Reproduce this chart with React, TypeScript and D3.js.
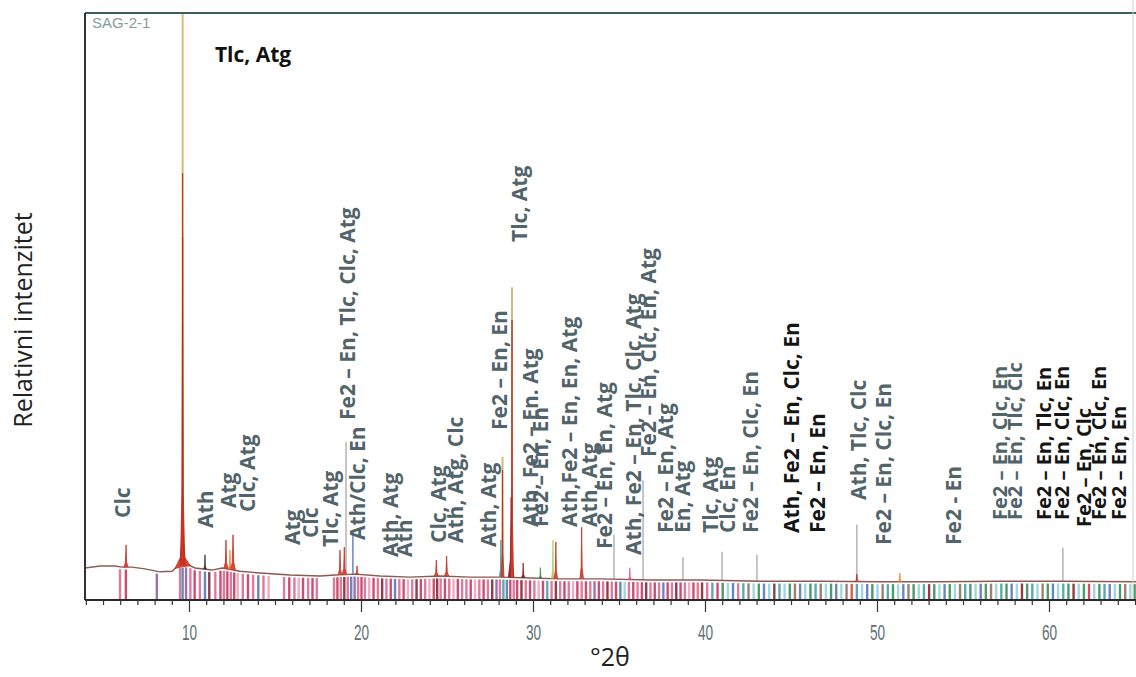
import React from 'react';
import * as d3 from 'd3';

const W = 1136;
const H = 677;

// background of the diffractogram (°2θ, relative intensity)
const bgTheta = [3.92, 4.8, 5.67, 6.08, 6.66, 7.41, 8.28, 8.98, 9.33, 9.91, 10.32, 11.31, 11.89, 12.94, 14.1, 15.84, 17.59, 18.46, 19.62, 21.08, 22.82, 24.56, 26.31, 28.05, 29.8, 31.54, 33.87, 36.77, 39.68, 43.17, 46.66, 50.14, 53.63, 57.12, 60.61, 65.04];
const bgInt = [5.45, 5.8, 5.8, 5.6, 5.6, 5.3, 4.8, 4.9, 5.8, 6.0, 5.45, 5.1, 5.45, 4.9, 4.6, 4.26, 4.1, 4.26, 4.4, 4.1, 3.9, 4.1, 3.9, 3.9, 3.75, 3.6, 3.6, 3.4, 3.4, 3.2, 3.2, 3.1, 3.1, 3.2, 3.2, 3.1];

// measured peaks: position, height, half width, phase colour code
const peakTheta = [6.31, 9.6, 9.6, 9.6, 10.9, 12.12, 12.35, 12.53, 18.75, 19.0, 19.74, 24.35, 24.95, 28.1, 28.2, 28.7, 28.75, 29.4, 30.4, 31.13, 31.3, 32.8, 35.6, 48.8, 51.3];
const peakInt = [9.4, 12, 61.8, 72.7, 7.7, 10.2, 8.5, 11.1, 8.5, 9.0, 5.8, 6.8, 7.5, 10.2, 22.1, 17.5, 47.7, 6.3, 5.5, 10.2, 9.9, 12.4, 5.5, 4.4, 4.6];
const peakHalf = [0.12, 0.45, 0.13, 0.06, 0.08, 0.12, 0.1, 0.14, 0.1, 0.12, 0.1, 0.12, 0.12, 0.08, 0.08, 0.16, 0.09, 0.1, 0.08, 0.08, 0.1, 0.1, 0.1, 0.1, 0.1];
const peakPhase = ['r', 'r', 'r', 'r', 'k', 'r', 'o', 'r', 'r', 'r', 'r', 'r', 'r', 't', 'r', 'd', 'r', 'd', 'g', 'y', 'r', 'r', 'p', 'r', 'o'];

// thin reference lines rising above the trace
const lineTheta = [9.6, 28.2, 28.75, 19.1, 19.5, 34.68, 36.37, 38.69, 40.96, 42.99, 48.8, 60.78];
const lineInt = [120, 24.4, 53.3, 26.9, 11.9, 11.1, 20.4, 7.3, 8.2, 7.7, 12.8, 8.9];
const linePhase = ['a', 'a', 'a', 'e', 'b', 'e', 'e', 'e', 'e', 'e', 'e', 'e'];

// stick pattern of the reference phases
const sticks: [number, string][] = [
  [5.96, 'p'], [6.3, 'm'], [8.1, 'v'], [9.45, 'p'], [9.6, 'b'], [9.8, 'v'], [10.05, 'p'], [10.3, 'm'], [10.6, 'p'], [10.9, 'b'],
  [11.15, 'd'], [11.5, 'p'], [11.8, 'm'], [12.0, 'p'], [12.2, 'm'], [12.4, 'p'], [12.6, 'm'], [12.8, 'l'], [13.1, 'p'], [13.4, 'm'],
  [13.7, 'p'], [14.0, 'b'], [14.3, 'p'], [14.6, 'l'], [15.5, 'p'], [15.8, 'm'], [16.1, 'p'], [16.35, 'l'], [16.6, 'm'], [16.9, 'p'],
  [17.15, 'm'], [17.4, 'p'], [18.4, 'p'], [18.6, 'm'], [18.8, 'p'], [19.0, 'd'], [19.2, 'p'], [19.4, 'b'], [19.6, 'v'], [19.8, 'p'],
  [20.0, 'm'], [20.2, 'p'], [20.45, 'l'], [20.7, 'm'], [20.95, 'p'], [21.2, 'd'], [21.45, 'p'], [21.7, 'm'], [21.95, 'b'], [22.2, 'p'],
  [22.45, 'm'], [22.7, 'l'], [22.95, 'p'], [23.2, 'd'], [23.45, 'm'], [23.7, 'p'], [23.95, 'l'], [24.2, 'm'], [24.4, 'd'], [24.6, 'p'],
  [24.85, 'm'], [25.1, 'p'], [25.35, 'l'], [25.6, 'm'], [25.85, 'p'], [26.1, 'p'], [26.35, 'm'], [26.6, 'l'], [26.85, 'p'], [27.1, 'm'],
  [27.35, 'p'], [27.6, 'd'], [27.85, 'v'], [28.05, 'p'], [28.25, 't'], [28.45, 'b'], [28.65, 'm'], [28.85, 'p'], [29.05, 'm'], [29.3, 'd'],
  [29.55, 'p'], [29.8, 'm'], [30.05, 'p'], [30.3, 'l'], [30.55, 'm'], [30.8, 't'], [31.05, 'p'], [31.3, 'd'], [31.55, 'p'], [31.8, 'm'],
  [32.05, 'p'], [32.3, 'l'], [32.55, 'm'], [32.8, 'p'], [33.05, 'm'], [33.3, 'p'], [33.55, 'v'], [33.8, 'm'], [34.05, 'p'], [34.3, 'd'],
  [34.55, 'p'], [34.8, 'm'], [35.05, 'b'], [35.3, 'c'], [35.55, 'p'], [35.8, 'm'], [36.05, 'p'], [36.3, 'm'], [36.55, 'd'], [36.8, 'p'],
  [37.05, 'm'], [37.3, 'p'], [37.55, 'b'], [37.8, 'm'], [38.05, 'p'], [38.3, 'd'], [38.55, 'm'], [38.8, 'p'], [39.05, 'l'], [39.3, 'm'],
  [39.55, 'p'], [39.8, 'd'], [40.1, 'p'], [40.4, 't'], [40.7, 'm'], [41.0, 'g'], [41.3, 'c'], [41.6, 'b'], [41.9, 'p'], [42.2, 't'],
  [42.5, 'n'], [42.8, 'c'], [43.1, 'g'], [43.4, 'b'], [43.7, 'c'], [44.0, 'd'], [44.3, 't'], [44.6, 'c'], [44.9, 'g'], [45.2, 'n'],
  [45.5, 'b'], [45.8, 'c'], [46.1, 'g'], [46.4, 't'], [46.7, 'n'], [47.0, 'c'], [47.3, 'g'], [47.6, 'b'], [47.9, 'c'], [48.2, 'n'],
  [48.5, 'r'], [48.8, 't'], [49.1, 'c'], [49.4, 'b'], [49.7, 'g'], [50.0, 'c'], [50.3, 'n'], [50.6, 't'], [50.9, 'g'], [51.2, 'c'],
  [51.5, 'b'], [51.8, 'n'], [52.1, 'g'], [52.4, 'c'], [52.7, 't'], [53.0, 'd'], [53.3, 'g'], [53.6, 'c'], [53.9, 'b'], [54.2, 'g'],
  [54.5, 'c'], [54.8, 'n'], [55.1, 't'], [55.4, 'g'], [55.7, 'c'], [56.0, 'b'], [56.3, 'g'], [56.6, 'n'], [56.9, 'c'], [57.2, 't'],
  [57.5, 'g'], [57.8, 'b'], [58.1, 'c'], [58.4, 'd'], [58.7, 'g'], [59.0, 't'], [59.3, 'c'], [59.6, 'n'], [59.9, 'g'], [60.2, 'b'],
  [60.5, 'c'], [60.8, 't'], [61.1, 'g'], [61.4, 'd'], [61.7, 'c'], [62.0, 'g'], [62.3, 'm'], [62.6, 'c'], [62.9, 'g'], [63.2, 't'],
  [63.5, 'b'], [63.8, 'c'], [64.1, 'g'], [64.4, 'n'], [64.7, 'c'], [64.95, 'g'],
];

// phase annotations: text, °2θ at baseline, intensity at start, emphasised (black)
const labelText = [
  'Clc', 'Ath', 'Atg', 'Clc, Atg', 'Atg', 'Clc', 'Tlc, Atg', 'Ath/Clc, En', 'Fe2 – En, Tlc, Clc, Atg', 'Ath, Atg', 'Ath',
  'Clc, Atg', 'Ath, Atg, Clc', 'Ath, Atg', 'Fe2 – En, En', 'Tlc, Atg', 'Ath, Fe2 – En. Atg', 'Fe2 – En, En', 'Ath,Fe2 – En, En, Atg',
  'Ath, Atg', 'Fe2 – En, En, Atg', 'Ath, Fe2 – En, Tlc, Clc, Atg', 'Fe2 – En, Clc, En, Atg', 'Fe2 – En, Atg', 'En, Atg', 'Tlc, Atg',
  'Clc, En', 'Fe2 – En, Clc, En', 'Ath, Fe2 – En, Clc, En', 'Fe2 – En, En', 'Ath, Tlc, Clc', 'Fe2 – En, Clc, En', 'Fe2 - En',
  'Fe2 – En, Clc, En', 'Fe2 – En, Tlc, Clc', 'Fe2 – En, Tlc, En', 'Fe2 – En, Clc, En', 'Fe2 – En, Clc', 'Fe2 – En, Clc, En', 'Fe2 – En, En',
];
const labelTheta = [
  6.54, 11.37, 12.7, 13.81, 16.42, 17.47, 18.63, 20.2, 19.62, 22.12, 22.94,
  24.91, 25.9, 27.82, 28.46, 29.62, 30.26, 30.84, 32.53,
  33.69, 34.56, 36.26, 37.1, 38.11, 39.1, 40.73,
  41.71, 43.05, 45.44, 46.95, 49.33, 50.78, 54.85,
  57.53, 58.4, 60.09, 61.13, 62.41, 63.28, 64.45,
];
const labelInt = [
  13.97, 12.27, 15.67, 14.99, 9.37, 10.56, 9.03, 10.22, 30.66, 7.33, 7.33,
  9.71, 9.71, 9.03, 28.96, 60.99, 12.44, 12.44, 12.44,
  12.44, 8.7, 7.67, 24.36, 11.41, 11.41, 11.41,
  11.41, 11.41, 11.41, 11.41, 17.04, 9.37, 9.37,
  13.63, 13.63, 13.63, 13.63, 12.44, 13.63, 13.63,
];
const labelEmph = [
  0, 0, 0, 0, 0, 0, 0, 0, 0, 0, 0,
  0, 0, 0, 0, 0, 0, 0, 0,
  0, 0, 0, 0, 0, 0, 0,
  0, 0, 1, 1, 0, 0, 0,
  0, 0, 1, 1, 1, 1, 1,
];

const xTicks = [10, 20, 30, 40, 50, 60];
const sampleName = 'SAG-2-1';
const mainLabel = 'Tlc, Atg';
const mainLabelPos = [11.48, 91.65];
const sampleNamePos = [4.33, 97.45];
const yTitle = 'Relativni intenzitet';
const xTitle = '°2θ';

const phaseColor: Record<string, string> = {
  p: '#d9658c', m: '#c2305a', l: '#ec9fb8', b: '#4f73b5', v: '#8c5aa0', d: '#7a1d2a',
  t: '#3d9ea0', g: '#2f8a4e', c: '#8fd0e0', n: '#8b6a5a', r: '#d8402a', o: '#e8862a',
  y: '#b8c850', k: '#3a2a2a', a: '#d8b878', e: '#a8a8a8',
};

export default function App() {
  const left = 85, top = 13, bottom = 600, right = W;
  const x = d3.scaleLinear().domain([10, 60]).range([189.5, 1049.5]);
  const y = d3.scaleLinear().domain([0, 100]).range([bottom, top]);
  const bg = d3.scaleLinear().domain(bgTheta).range(bgInt).clamp(true);
  const line = d3.line<[number, number]>().x(d => x(d[0])).y(d => y(d[1]));
  const bgPts: [number, number][] = bgTheta.map((t, i) => [t, bgInt[i]]);

  const minor = d3.range(4, 66, 1);
  const slate = '#506469';

  const peakPath = (t: number, h: number, w: number) => {
    const b0 = bg(t - w), b1 = bg(t + w), bm = bg(t);
    return line([
      [t - w, b0], [t - w * 0.3, bm + (h - bm) * 0.22], [t - w * 0.1, bm + (h - bm) * 0.7], [t, h],
      [t + w * 0.1, bm + (h - bm) * 0.7], [t + w * 0.3, bm + (h - bm) * 0.22], [t + w, b1],
    ]) as string;
  };

  return (
    <svg width={W} height={H} style={{ position: 'absolute', left: 0, top: 0, background: '#fff' }}
      fontFamily="'Open Sans', 'Noto Sans', sans-serif">
      <defs>
        <clipPath id="plot">
          <rect x={left} y={top} width={right - left} height={bottom - top} />
        </clipPath>
      </defs>
      <g clipPath="url(#plot)">
        {sticks.map(([t, c], i) => (
          <line key={'s' + i} x1={x(t)} x2={x(t)} y1={y(0)} y2={y(bg(t) - 0.4)}
            stroke={phaseColor[c]} strokeWidth={2.4} opacity={0.85} />
        ))}
        {lineTheta.map((t, i) => (
          <line key={'l' + i} x1={x(t)} x2={x(t)} y1={y(bg(t))} y2={y(lineInt[i])}
            stroke={phaseColor[linePhase[i]]} strokeWidth={linePhase[i] === 'a' ? 2 : 1.3} />
        ))}
        <path d={line(bgPts) as string} fill="none" stroke="#8c5a50" strokeWidth={1.4} />
        {peakTheta.map((t, i) => (
          <path key={'p' + i} d={peakPath(t, peakInt[i], peakHalf[i])}
            fill={phaseColor[peakPhase[i]]} stroke={peakPhase[i] === 'r' ? '#b8281a' : phaseColor[peakPhase[i]]}
            strokeWidth={0.8} opacity={0.95} />
        ))}
      </g>

      {/* frame */}
      <line x1={left} x2={right} y1={top} y2={top} stroke="#3f5c62" strokeWidth={2} />
      <line x1={left} x2={left} y1={top} y2={bottom} stroke="#333" strokeWidth={2} />
      <line x1={right - 3} x2={right - 3} y1={0} y2={bottom} stroke="#d0d0d0" strokeWidth={1} />
      <line x1={left} x2={right} y1={bottom} y2={bottom} stroke="#2a2a2a" strokeWidth={2} />

      {minor.map(t => (
        <line key={'m' + t} x1={x(t)} x2={x(t)} y1={bottom} y2={bottom + (t % 10 === 0 ? 12 : 5)}
          stroke="#333" strokeWidth={1.2} />
      ))}
      {xTicks.map(t => (
        <text key={'t' + t} transform={`translate(${x(t)},${bottom + 40}) scale(0.62,1)`} textAnchor="middle" fontSize={22}
          fontFamily="'Liberation Sans', Arial, sans-serif" fill="#5f6f74">{t}</text>
      ))}

      <text x={x(sampleNamePos[0])} y={y(sampleNamePos[1])} fontSize={15}
        fontFamily="'Liberation Sans', Arial, sans-serif" fill="#8a9a9e">{sampleName}</text>
      <text x={x(mainLabelPos[0])} y={y(mainLabelPos[1])} fontSize={21} fontWeight={700} fill="#111">{mainLabel}</text>

      {labelText.map((s, i) => {
        const small = labelTheta[i] > 56;
        return (
          <text key={'a' + i} transform={`translate(${x(labelTheta[i])},${y(labelInt[i])}) rotate(-90)`}
            fontSize={small ? 20 : 21} fontWeight={700}
            fill={labelEmph[i] ? '#151515' : slate}>{s}</text>
        );
      })}

      <text transform={`translate(32,320) rotate(-90)`} textAnchor="middle"
        fontSize={25} fill="#222">{yTitle}</text>
      <text x={610} y={666} textAnchor="middle" fontSize={25} fill="#222">{xTitle}</text>
    </svg>
  );
}
